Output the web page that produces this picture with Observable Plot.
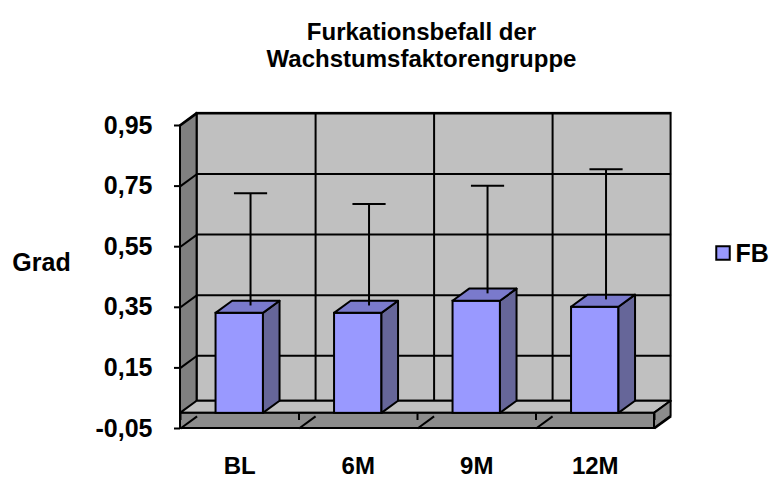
<!DOCTYPE html>
<html>
<head>
<meta charset="utf-8">
<script src="https://cdn.jsdelivr.net/npm/d3@7"></script>
<script src="https://cdn.jsdelivr.net/npm/@observablehq/plot@0.6"></script>
<style>
  html, body { margin: 0; padding: 0; background: #fff; }
</style>
</head>
<body>
<div id="chart"></div>
<script>
// Furkationsbefall (Mittelwert + Standardabweichung) je Untersuchungszeitpunkt
const categories = ["BL", "6M", "9M", "12M"];
const means = [0.33, 0.33, 0.37, 0.35];
const sds = [0.37, 0.335, 0.355, 0.43];
const yTicks = [-0.05, 0.15, 0.35, 0.55, 0.75, 0.95];
const seriesName = "FB";
const titleLines = ["Furkationsbefall der", "Wachstumsfaktorengruppe"];
const yLabel = "Grad";

// 3-D look: depth of the box expressed in scale units
const DX = 0.14;   // depth along x (category units)
const DY = 0.04;   // depth along y (value units)
const EF = 0.65;   // error bars sit at this fraction of the depth
const yMin = yTicks[0], yMax = yTicks[yTicks.length - 1];
const n = categories.length;

const wall = "#c0c0c0", sideWall = "#808080", slab = "#8c8c8c";
const barFront = "#9999ff", barSide = "#666699", barTop = "#7a7acc";
const lw = 2;

// decimal comma and a plain hyphen for negatives
const fmt = d => d3.format(".2f")(d).replace(".", ",").replace("\u2212", "-");

const bars = categories.map((c, i) => ({c, i, m: means[i], sd: sds[i]}));
const edges = d3.range(0, n + 1);
const inner = d3.range(1, n);

const barSides = bars.flatMap(b => [
  {c: b.c, x: b.i + 0.7, y1: 0, y2: b.m},
  {c: b.c, x: b.i + 0.7 + DX, y1: DY, y2: b.m + DY}
]);
const barTops = bars.flatMap(b => [
  {c: b.c, y: b.m, x1: b.i + 0.3, x2: b.i + 0.7},
  {c: b.c, y: b.m + DY, x1: b.i + 0.3 + DX, x2: b.i + 0.7 + DX}
]);

const chart = Plot.plot({
  width: 771,
  height: 479,
  marginLeft: 180,
  marginRight: 117,
  marginTop: 125,
  marginBottom: 51,
  style: {
    fontFamily: "'Liberation Sans', Arial, sans-serif",
    fontSize: "25px",
    fontWeight: "bold",
    color: "#000",
    background: "#fff"
  },
  x: {type: "linear", domain: [0, n]},
  y: {domain: [yMin, yMax]},
  marks: [
    // back wall
    Plot.rect([{}], {x1: () => DX, x2: () => n + DX, y1: () => DY, y2: () => yMax + DY,
      fill: wall, stroke: "black", strokeWidth: lw}),
    Plot.link(yTicks.filter(t => t > 0), {x1: () => DX, x2: () => n + DX,
      y1: t => t + DY, y2: t => t + DY, stroke: "black", strokeWidth: lw}),
    Plot.link(inner, {x1: k => k + DX, x2: k => k + DX, y1: () => DY, y2: () => yMax + DY,
      stroke: "black", strokeWidth: lw}),
    // left side wall
    Plot.areaY([{x: 0, y1: yMin, y2: yMax}, {x: DX, y1: yMin + DY, y2: yMax + DY}],
      {x: "x", y1: "y1", y2: "y2", fill: sideWall, stroke: "black", strokeWidth: lw}),
    Plot.link(yTicks.concat([0]), {x1: () => 0, x2: () => DX, y1: t => t, y2: t => t + DY,
      stroke: "black", strokeWidth: lw}),
    // floor: top surface, front and right faces of the base
    Plot.areaX([{y: 0, x1: 0, x2: n}, {y: DY, x1: DX, x2: n + DX}],
      {y: "y", x1: "x1", x2: "x2", fill: wall, stroke: "black", strokeWidth: lw}),
    Plot.rect([{}], {x1: () => 0, x2: () => n, y1: () => yMin, y2: () => 0,
      fill: slab, stroke: "black", strokeWidth: lw}),
    Plot.areaY([{x: n, y1: yMin, y2: 0}, {x: n + DX, y1: yMin + DY, y2: DY}],
      {x: "x", y1: "y1", y2: "y2", fill: slab, stroke: "black", strokeWidth: lw}),
    Plot.link(edges, {x1: k => k, x2: k => k + DX, y1: () => yMin, y2: () => yMin + DY,
      stroke: "black", strokeWidth: lw}),
    Plot.link(edges, {x1: k => k, x2: k => k, y1: () => 0, y2: () => -0.022,
      stroke: "black", strokeWidth: lw}),
    // columns
    Plot.rect(bars, {x1: d => d.i + 0.3, x2: d => d.i + 0.7, y1: () => 0, y2: "m",
      fill: barFront, stroke: "black", strokeWidth: lw}),
    Plot.areaY(barSides, {x: "x", y1: "y1", y2: "y2", z: "c",
      fill: barSide, stroke: "black", strokeWidth: lw}),
    Plot.areaX(barTops, {y: "y", x1: "x1", x2: "x2", z: "c",
      fill: barTop, stroke: "black", strokeWidth: lw}),
    // error bars (mean + SD)
    Plot.link(bars, {x1: d => d.i + 0.5 + EF * DX, x2: d => d.i + 0.5 + EF * DX,
      y1: d => d.m + EF * DY, y2: d => d.m + d.sd + EF * DY, stroke: "black", strokeWidth: lw}),
    Plot.link(bars, {x1: d => d.i + 0.36 + EF * DX, x2: d => d.i + 0.64 + EF * DX,
      y1: d => d.m + d.sd + EF * DY, y2: d => d.m + d.sd + EF * DY, stroke: "black", strokeWidth: lw}),
    // axes
    Plot.axisY(yTicks, {tickFormat: fmt, tickSize: 6, tickPadding: 22, label: null, strokeWidth: lw}),
    Plot.axisX(categories.map((_, i) => i + 0.5), {tickFormat: d => categories[Math.floor(d)],
      tickSize: 0, tickPadding: 28, fontSize: 24, label: null}),
    // title, axis title and legend
    Plot.text([titleLines[0]], {text: d => d, frameAnchor: "top", lineAnchor: "bottom",
      fontSize: 24, dx: 4, dy: -86}),
    Plot.text([titleLines[1]], {text: d => d, frameAnchor: "top", lineAnchor: "bottom",
      fontSize: 24, dx: 4, dy: -59}),
    Plot.text([yLabel], {text: d => d, frameAnchor: "left", textAnchor: "middle", dx: -139, dy: -14}),
    Plot.dot([seriesName], {frameAnchor: "right", dx: 68.5, dy: -24, symbol: "square", r: 7.6,
      fill: barFront, stroke: "black", strokeWidth: 2}),
    Plot.text([seriesName], {text: d => d, frameAnchor: "right", textAnchor: "start", dx: 81, dy: -23})
  ]
});

document.getElementById("chart").appendChild(chart);
</script>
</body>
</html>
